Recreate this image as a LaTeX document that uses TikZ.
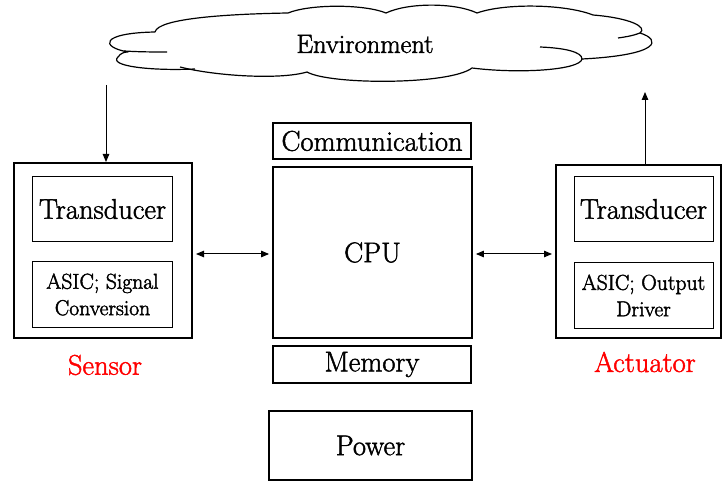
\documentclass[tikz,border=0pt]{standalone}
\usetikzlibrary{arrows.meta}
% glyphs are filled and lightly stroked, giving a darker text colour
\newcommand\inktext{\special{pdf:literal direct 0.45 w 2 Tr}}
\begin{document}
\begin{tikzpicture}[x=1bp,y=1bp,
  outerbox/.style={draw, line width=2bp, inner sep=0pt},
  innerbox/.style={draw, line width=1bp, inner sep=0pt, align=center},
  corebox/.style={draw, line width=1.8bp, inner sep=0pt, align=center},
  bigtext/.style={font=\inktext\fontsize{28.6}{30}\selectfont},
  smalltext/.style={font=\inktext\fontsize{21.7}{26.5}\selectfont},
  envtext/.style={font=\inktext\fontsize{26.5}{28}\selectfont},
  redlabel/.style={text=red, font=\inktext\fontsize{28.6}{30}\selectfont},
  link/.style={line width=1bp, -{Triangle[length=8bp,width=6.5bp]}},
  duplex/.style={line width=1bp, {Triangle[length=8bp,width=6.5bp]}-{Triangle[length=8bp,width=6.5bp]}, shorten <=3bp, shorten >=3bp},
  cloudline/.style={line width=1.2bp, line join=round}]
\useasboundingbox (0,0) rectangle (723,-482);

% --- environment cloud ---
\draw[cloudline]
  (155,-32) .. controls (158,-18) and (230,-14) .. (288,-13)
            .. controls (310,-4) and (364,-4) .. (386,-13)
            .. controls (408,-2.5) and (455,-2.5) .. (477,-13)
            .. controls (505,-3) and (565,-4) .. (593,-15)
            .. controls (630,-18) and (648,-27) .. (640,-33)
            .. controls (662,-40) and (660,-55) .. (582,-59)
            .. controls (580,-70) and (520,-74) .. (472,-68)
            .. controls (450,-85) and (330,-85) .. (307,-72)
            .. controls (280,-80) and (215,-76) .. (180,-67);
\draw[cloudline]
  (195,-69) .. controls (150,-71) and (108,-66) .. (118,-57)
            .. controls (121,-53) and (124,-52) .. (128,-52)
            .. controls (100,-47) and (100,-33) .. (155,-32);
% inner strokes of the cloud
\draw[cloudline] (124,-51) .. controls (140,-52) and (155,-52) .. (167,-52);
\draw[cloudline] (582,-59) .. controls (582,-52) and (565,-48) .. (540,-47);
\draw[cloudline] (640,-33) .. controls (632,-36) and (625,-37) .. (618,-38);
\node[envtext] (env) at (365,-44) {Environment};

% --- sensor ---
\node[outerbox, minimum width=178bp, minimum height=175bp] (sensor) at (103,-250.5) {};
\node[innerbox, bigtext, minimum width=139bp, minimum height=65bp] (strans) at (102.5,-209) {Transducer};
\node[innerbox, smalltext, minimum width=139bp, minimum height=65bp] (sasic) at (102.5,-294.5) {ASIC; Signal\\Conversion};
\node[redlabel] (slabel) at (105,-365) {Sensor};

% --- processing core ---
\node[corebox, bigtext, minimum width=198bp, minimum height=36bp] (comm) at (372,-141) {Communication};
\node[corebox, bigtext, minimum width=199bp, minimum height=171bp] (cpu) at (372.5,-252.5) {CPU};
\node[corebox, bigtext, minimum width=198bp, minimum height=37bp] (mem) at (372,-364.5) {Memory};
\node[corebox, bigtext, minimum width=203bp, minimum height=69bp] (power) at (370.5,-445.5) {Power};

% --- actuator ---
\node[outerbox, minimum width=165bp, minimum height=173bp] (act) at (638.5,-251.5) {};
\node[innerbox, bigtext, minimum width=139bp, minimum height=64bp] (atrans) at (643.5,-209) {Transducer};
\node[innerbox, smalltext, minimum width=139bp, minimum height=65bp] (aasic) at (643.5,-295.5) {ASIC; Output\\Driver};
\node[redlabel] (alabel) at (645,-362) {Actuator};

% --- connectors ---
\coordinate (envout) at (106,-85);
\coordinate (envin) at (645,-92);
\draw[link] (envout) -- (envout |- sensor.north);
\draw[link] (act.north -| envin) -- (envin);
\draw[duplex] (sensor.east |- 0,-254) -- (cpu.west |- 0,-254);
\draw[duplex] (cpu.east |- 0,-254) -- (act.west |- 0,-254);
\end{tikzpicture}
\end{document}
